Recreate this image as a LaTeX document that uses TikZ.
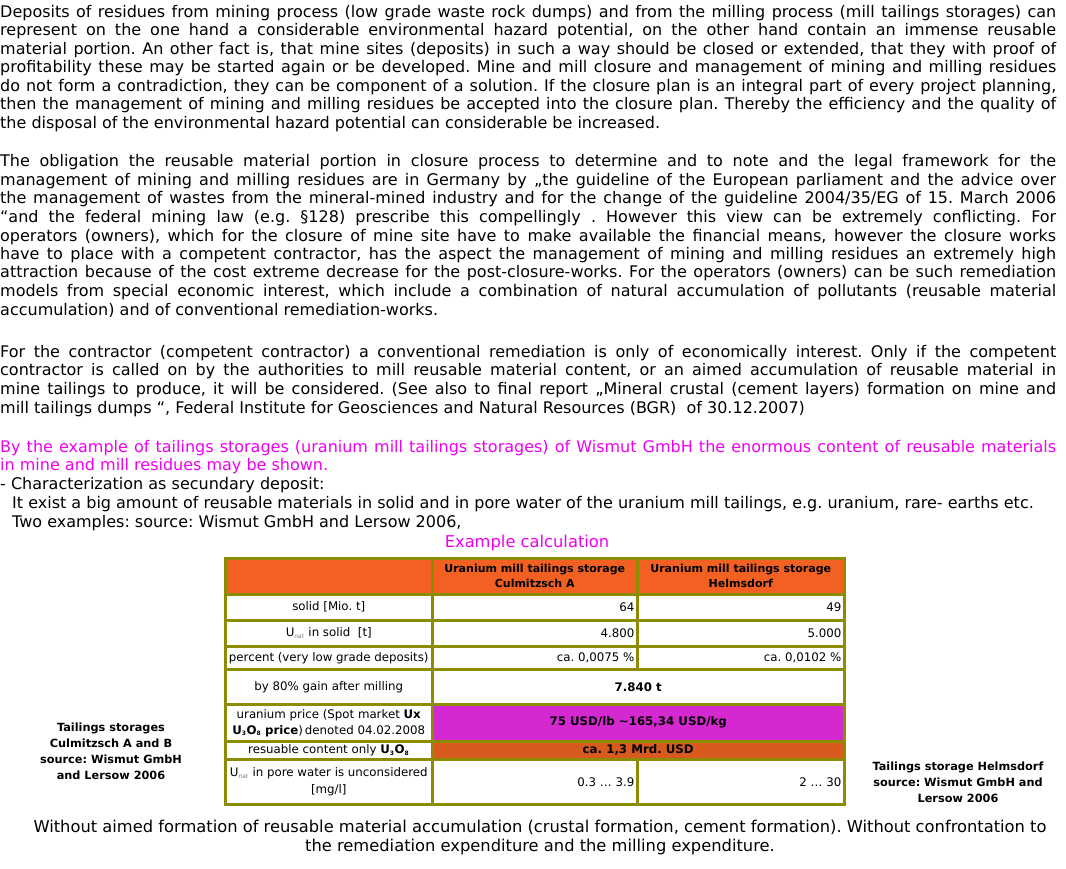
\documentclass[tikz,border=0pt]{standalone}
\usepackage{fontspec}
\setmainfont{DejaVu Sans}
\frenchspacing
\definecolor{olive2}{HTML}{8C8C00}
\definecolor{hdr}{HTML}{F26122}
\definecolor{mag}{HTML}{D428D0}
\definecolor{dorg}{HTML}{D85A1E}
\definecolor{pink}{HTML}{F000F0}
\newcommand\jl[3]{\node[anchor=base west,inner sep=0] (#1) at (0,#2) {\makebox[1056pt][s]{#3}};}
\newcommand\pl[4]{\node[anchor=base west,inner sep=0] (#1) at (#2,#3) {#4};}
\newcommand\unat{U\textsubscript{\textcolor{gray}{\fontsize{6}{6}\selectfont nat}}}
\newcommand\uoe{\textbf{U\textsubscript{\fontsize{6}{6}\selectfont 3}O\textsubscript{\fontsize{6}{6}\selectfont 8}}}
\begin{document}
\begin{tikzpicture}[x=1pt,y=-1pt,font=\fontsize{16}{18}\selectfont,
  cell/.style={draw=olive2,line width=2.5pt,fill=white,anchor=north west,inner sep=0},
  ct/.style={font=\fontsize{11.8}{13}\selectfont,inner sep=0,align=center},
  bt/.style={font=\bfseries\fontsize{11.8}{13}\selectfont,inner sep=0,align=center},
  side/.style={font=\bfseries\fontsize{11.3}{16}\selectfont,align=center,inner sep=0}]
\useasboundingbox (0,0) rectangle (1066,868);
\jl{a1}{17}{Deposits of residues from mining process (low grade waste rock dumps) and from the milling process (mill tailings storages) can}
\jl{a2}{35}{represent on the one hand a considerable environmental hazard potential, on the other hand contain an immense reusable}
\jl{a3}{54}{material portion. An other fact is, that mine sites (deposits) in such a way should be closed or extended, that they with proof of}
\jl{a4}{72}{profitability these may be started again or be developed. Mine and mill closure and management of mining and milling residues}
\jl{a5}{91}{do not form a contradiction, they can be component of a solution. If the closure plan is an integral part of every project planning,}
\jl{a6}{109}{then the management of mining and milling residues be accepted into the closure plan. Thereby the efficiency and the quality of}
\pl{a7}{0}{128}{the disposal of the environmental hazard potential can considerable be increased.}
\jl{b1}{166}{The obligation the reusable material portion in closure process to determine and to note and the legal framework for the}
\jl{b2}{185}{management of mining and milling residues are in Germany by „the guideline of the European parliament and the advice over}
\jl{b3}{203}{the management of wastes from the mineral-mined industry and for the change of the guideline 2004/35/EG of 15. March 2006}
\jl{b4}{222}{“and the federal mining law (e.g. §128) prescribe this compellingly . However this view can be extremely conflicting. For}
\jl{b5}{241}{operators (owners), which for the closure of mine site have to make available the financial means, however the closure works}
\jl{b6}{259}{have to place with a competent contractor, has the aspect the management of mining and milling residues an extremely high}
\jl{b7}{277}{attraction because of the cost extreme decrease for the post-closure-works. For the operators (owners) can be such remediation}
\jl{b8}{296}{models from special economic interest, which include a combination of natural accumulation of pollutants (reusable material}
\pl{b9}{0}{315}{accumulation) and of conventional remediation-works.}
\jl{c1}{357}{For the contractor (competent contractor) a conventional remediation is only of economically interest. Only if the competent}
\jl{c2}{375}{contractor is called on by the authorities to mill reusable material content, or an aimed accumulation of reusable material in}
\jl{c3}{394}{mine tailings to produce, it will be considered. (See also to final report „Mineral crustal (cement layers) formation on mine and}
\pl{c4}{0}{413}{mill tailings dumps “, Federal Institute for Geosciences and Natural Resources (BGR) \ of 30.12.2007)}
\begin{scope}[color=pink]
\jl{d1}{452}{By the example of tailings storages (uranium mill tailings storages) of Wismut GmbH the enormous content of reusable materials}
\pl{d2}{0}{470}{in mine and mill residues may be shown.}
\end{scope}
\pl{e1}{0}{489}{- Characterization as secundary deposit:}
\pl{e2}{12}{508}{It exist a big amount of reusable materials in solid and in pore water of the uranium mill tailings, e.g. uranium, rare- earths etc.}
\pl{e3}{12}{527}{Two examples: source: Wismut GmbH and Lersow 2006,}
\node[anchor=base,inner sep=0,text=pink,font=\fontsize{16.3}{18}\selectfont] (ex) at (527,547) {Example calculation};
% table
\node[cell,fill=hdr,minimum width=207pt,minimum height=36pt] (h0) at (224,557) {};
\node[cell,fill=hdr,minimum width=205pt,minimum height=36pt] (h1) at (431,557) {};
\node[cell,fill=hdr,minimum width=207pt,minimum height=36pt] (h2) at (636,557) {};
\node[bt,font=\bfseries\fontsize{11}{15}\selectfont] (h1t) at (h1.center) {Uranium mill tailings storage\\Culmitzsch A};
\node[bt,font=\bfseries\fontsize{11}{15}\selectfont] (h2t) at (h2.center) {Uranium mill tailings storage\\Helmsdorf};
\foreach \n/\y/\h in {r1/593/26, r2/619/26, r3/645/23, r8/758/45}{
  \node[cell,minimum width=207pt,minimum height=\h pt] (\n a) at (224,\y) {};
  \node[cell,minimum width=205pt,minimum height=\h pt] (\n b) at (431,\y) {};
  \node[cell,minimum width=207pt,minimum height=\h pt] (\n c) at (636,\y) {};}
\node[cell,minimum width=207pt,minimum height=35pt] (r4a) at (224,668) {};
\node[cell,minimum width=412pt,minimum height=35pt] (r4b) at (431,668) {};
\node[cell,minimum width=207pt,minimum height=37pt] (r5a) at (224,703) {};
\node[cell,fill=mag,minimum width=412pt,minimum height=37pt] (r5b) at (431,703) {};
\node[cell,minimum width=207pt,minimum height=18pt] (r6a) at (224,740) {};
\node[cell,fill=dorg,minimum width=412pt,minimum height=18pt] (r6b) at (431,740) {};
\node[ct] at (r1a.center) {solid [Mio. t]};
\node[ct] at (r2a.center) {\unat\ in solid \ [t]};
\node[ct] at (r3a.center) {percent (very low grade deposits)};
\node[ct] at (r4a.center) {by 80\% gain after milling};
\node[ct,font=\fontsize{11.8}{16}\selectfont] at (r5a.center) {uranium price (Spot market \textbf{Ux}\\\uoe\ \textbf{price})\,denoted 04.02.2008};
\node[ct] at (r6a.center) {resuable content only \uoe};
\node[ct,font=\fontsize{11.8}{17}\selectfont] at (r8a.center) {\unat\ in pore water is unconsidered\\{}[mg/l]};
\node[ct,anchor=east] at ([xshift=-4pt]r1b.east) {64};
\node[ct,anchor=east] at ([xshift=-4pt]r1c.east) {49};
\node[ct,anchor=east] at ([xshift=-4pt]r2b.east) {4.800};
\node[ct,anchor=east] at ([xshift=-4pt]r2c.east) {5.000};
\node[ct,anchor=east] at ([xshift=-4pt]r3b.east) {ca. 0,0075 \%};
\node[ct,anchor=east] at ([xshift=-4pt]r3c.east) {ca. 0,0102 \%};
\node[ct,anchor=east] at ([xshift=-4pt]r8b.east) {0.3 \dots\ 3.9};
\node[ct,anchor=east] at ([xshift=-4pt]r8c.east) {2 \dots\ 30};
\node[bt] at (r4b.center) {7.840 t};
\node[bt] at (r5b.center) {75 USD/lb \textasciitilde165,34 USD/kg};
\node[bt] at (r6b.center) {ca. 1,3 Mrd. USD};
\node[side] (sl) at (111,751) {Tailings storages\\Culmitzsch A and B\\source: Wismut GmbH\\and Lersow 2006};
\node[side] (sr) at (958,782) {Tailings storage Helmsdorf\\source: Wismut GmbH and\\Lersow 2006};
\node[align=center,inner sep=0,font=\fontsize{16.3}{19}\selectfont] (bt) at (540,837) {Without aimed formation of reusable material accumulation (crustal formation, cement formation). Without confrontation to\\the remediation expenditure and the milling expenditure.};
\end{tikzpicture}
\end{document}
